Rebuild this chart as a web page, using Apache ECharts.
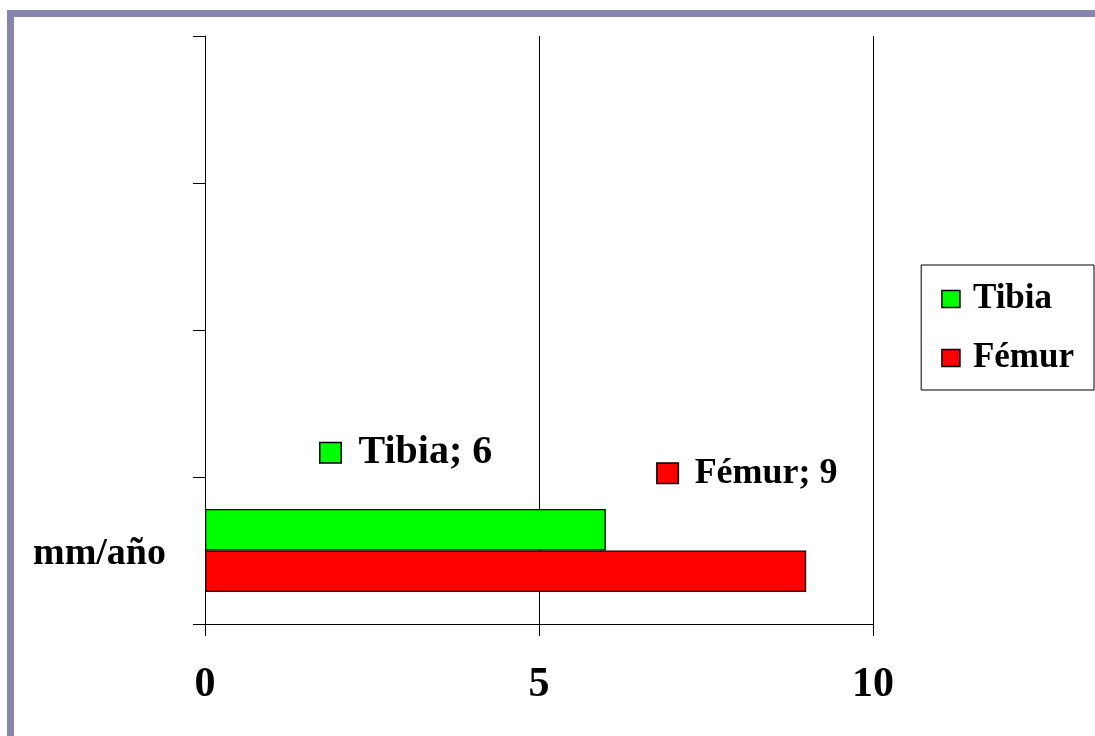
<!DOCTYPE html>
<html>
<head>
<meta charset="utf-8">
<script src="https://cdn.jsdelivr.net/npm/echarts@6/dist/echarts.min.js"></script>
<style>
  html, body { margin: 0; padding: 0; background: #ffffff; }
  #frame { position: absolute; left: 7px; top: 10px; width: 1081px; height: 719px;
           border-left: 7px solid #8585ad; border-top: 7px solid #8585ad; }
  #chart { position: absolute; left: 0; top: 0; width: 1095px; height: 736px; }
</style>
</head>
<body>
<div id="frame"></div>
<div id="chart"></div>
<script>
// ---- data ----
const categories = ['mm/año', '', '', ''];
const seriesNames = ['Tibia', 'Fémur'];
const tibiaValues = [6];
const femurValues = [9];
const xTicks = [0, 5, 10];

const FONT = 'Liberation Serif';
const colors = { 'Tibia': '#00ff00', 'Fémur': '#ff0000' };

function labelFor(name, offset, fontSize, gap) {
  return {
    show: true,
    position: 'inside',
    offset: offset,
    formatter: function (p) { return '{sq|}{sp|}{t|' + p.seriesName + '; ' + p.value + '}'; },
    rich: {
      sq: { width: 20, height: 19, backgroundColor: colors[name], borderColor: '#000', borderWidth: 1.5, verticalAlign: 'middle' },
      sp: { width: gap, height: 10 },
      t: { fontFamily: FONT, fontWeight: 'bold', fontSize: fontSize, color: '#000', verticalAlign: 'middle' }
    }
  };
}

const chart = echarts.init(document.getElementById('chart'), null, { renderer: 'canvas' });
chart.setOption({
  backgroundColor: 'transparent',
  animation: false,
  grid: { left: 205, right: 222, top: 36, bottom: 112, containLabel: false },
  legend: {
    data: seriesNames,
    orient: 'vertical',
    right: 1,
    top: 265,
    padding: [14, 20, 12, 20],
    borderColor: '#000',
    borderWidth: 1,
    backgroundColor: '#fff',
    itemWidth: 18,
    itemHeight: 17,
    itemGap: 19,
    icon: 'rect',
    itemStyle: { borderColor: '#000', borderWidth: 1.5 },
    textStyle: { fontFamily: FONT, fontWeight: 'bold', fontSize: 35, color: '#000', lineHeight: 40, padding: [0, 0, 0, 8] }
  },
  xAxis: {
    type: 'value',
    min: xTicks[0],
    max: xTicks[xTicks.length - 1],
    interval: xTicks[1] - xTicks[0],
    axisLine: { show: true, lineStyle: { color: '#000', width: 1 } },
    axisTick: { show: true, length: 12, lineStyle: { color: '#000', width: 1 } },
    splitLine: { show: true, lineStyle: { color: '#000', width: 1 } },
    axisLabel: { fontFamily: FONT, fontWeight: 'bold', fontSize: 42, color: '#000', margin: 40 }
  },
  yAxis: {
    type: 'category',
    data: categories,
    boundaryGap: true,
    axisLine: { show: true, lineStyle: { color: '#000', width: 1 } },
    axisTick: { show: true, length: 12, lineStyle: { color: '#000', width: 1 } },
    splitLine: { show: false },
    axisLabel: { fontFamily: FONT, fontWeight: 'bold', fontSize: 38, color: '#000', margin: 39, verticalAlign: 'top', lineHeight: 8 }
  },
  series: [
    {
      name: seriesNames[0], type: 'bar', data: tibiaValues,
      barGap: '0%', barCategoryGap: '43.5%',
      itemStyle: { color: colors['Tibia'], borderColor: '#000', borderWidth: 1.3 },
      label: labelFor('Tibia', [1, -77], 40, 18)
    },
    {
      name: seriesNames[1], type: 'bar', data: femurValues,
      barGap: '0%', barCategoryGap: '43.5%',
      itemStyle: { color: colors['Fémur'], borderColor: '#000', borderWidth: 1.3 },
      label: labelFor('Fémur', [242, -98], 36, 17)
    }
  ]
});
</script>
</body>
</html>
